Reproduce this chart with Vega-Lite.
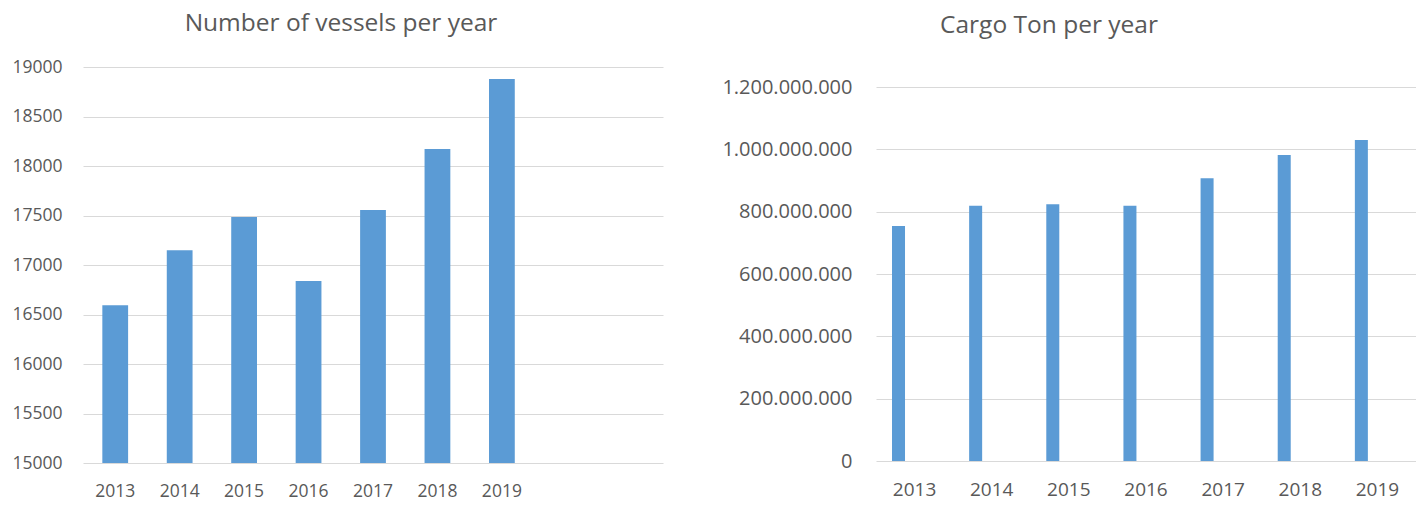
{
  "$schema": "https://vega.github.io/schema/vega-lite/v6.json",
  "padding": {"left": 11, "top": 10, "right": 0, "bottom": 0},
  "background": "white",
  "spacing": 58,
  "config": {
    "view": {"stroke": null},
    "font": "Open Sans",
    "axis": {"labelColor": "#595959", "gridColor": "#D9D9D9", "gridWidth": 1.2, "domain": false, "ticks": false, "title": null, "labelFont": "Open Sans"},
    "title": {"color": "#595959", "fontWeight": "normal", "font": "Open Sans"}
  },
  "datasets": {
    "vessels": [
      {"year": "2013", "vessels": 16593},
      {"year": "2014", "vessels": 17148},
      {"year": "2015", "vessels": 17485},
      {"year": "2016", "vessels": 16838},
      {"year": "2017", "vessels": 17555},
      {"year": "2018", "vessels": 18172},
      {"year": "2019", "vessels": 18879}
    ],
    "cargo": [
      {"year": "2013", "series": "Cargo Ton", "tons": 754000000},
      {"year": "2014", "series": "Cargo Ton", "tons": 819000000},
      {"year": "2015", "series": "Cargo Ton", "tons": 824000000},
      {"year": "2016", "series": "Cargo Ton", "tons": 819000000},
      {"year": "2017", "series": "Cargo Ton", "tons": 907000000},
      {"year": "2018", "series": "Cargo Ton", "tons": 982000000},
      {"year": "2019", "series": "Cargo Ton", "tons": 1030000000}
    ]
  },
  "hconcat": [
    {
      "title": {"text": "Number of vessels per year", "fontSize": 24.5, "offset": 22, "dx": -32},
      "width": 580,
      "height": 396,
      "data": {"name": "vessels"},
      "mark": {"type": "bar", "color": "#5B9BD5"},
      "encoding": {
        "x": {
          "field": "year", "type": "nominal",
          "scale": {"domain": ["2013", "2014", "2015", "2016", "2017", "2018", "2019", " ", "  "], "paddingInner": 0.6, "paddingOuter": 0.3},
          "axis": {"labelAngle": 0, "labelFontSize": 17.5, "labelPadding": 19, "grid": false}
        },
        "y": {
          "field": "vessels", "type": "quantitative",
          "scale": {"domain": [15000, 19000], "zero": false},
          "axis": {"values": [15000, 15500, 16000, 16500, 17000, 17500, 18000, 18500, 19000], "format": "d", "labelFontSize": 17.5, "labelPadding": 21}
        },
        "y2": {"datum": 15000}
      }
    },
    {
      "title": {"text": "Cargo Ton per year", "fontSize": 24.5, "offset": 29, "dx": -97},
      "width": 540,
      "height": 394,
      "data": {"name": "cargo"},
      "mark": {"type": "bar", "color": "#5B9BD5"},
      "encoding": {
        "x": {
          "field": "year", "type": "nominal",
          "scale": {"paddingInner": 0, "paddingOuter": 0},
          "axis": {"labelAngle": 0, "labelFontSize": 19, "labelPadding": 19, "grid": false}
        },
        "xOffset": {
          "field": "series", "type": "nominal",
          "scale": {"domain": ["Cargo Ton", "other"], "paddingInner": 0.595, "paddingOuter": 0.498}
        },
        "y": {
          "field": "tons", "type": "quantitative",
          "scale": {"domain": [0, 1264200000], "nice": false},
          "axis": {"values": [0, 200000000, 400000000, 600000000, 800000000, 1000000000, 1200000000], "labelExpr": "replace(format(datum.value, ','), regexp(',', 'g'), '.')", "labelFontSize": 20, "labelPadding": 24}
        }
      }
    }
  ]
}
